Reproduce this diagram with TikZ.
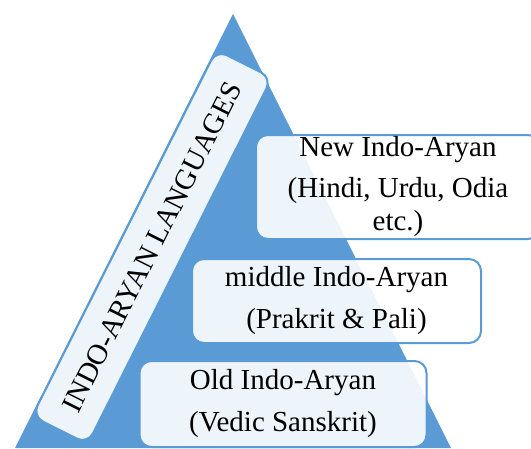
\documentclass[tikz,border=0pt]{standalone}
\usepackage{fontspec}
\setmainfont{Liberation Serif}
\definecolor{triblue}{HTML}{5B9BD5}
\begin{document}
\begin{tikzpicture}[x=1pt,y=-1pt,
  tbox/.style={draw=triblue, line width=2pt, fill=white, fill opacity=0.9, text opacity=1,
    rounded corners=12pt, align=center, inner sep=0pt, text=black,
    font=\fontsize{29}{33}\selectfont}]
\useasboundingbox (0,0) rectangle (531,448);
\clip (0,0) rectangle (531,448);
\coordinate (apex) at (233,14);
\coordinate (bl) at (15,448);
\coordinate (br) at (451,448);
\fill[triblue] (apex) -- (bl) -- (br) -- cycle;
\node[tbox, rotate=63.3, minimum width=410pt, minimum height=62pt] (lang) at (152,247) {INDO-ARYAN LANGUAGES};
\node[tbox, minimum width=284pt, minimum height=104pt] (new) at (398,187)
  {New Indo-Aryan\\[8pt](Hindi, Urdu, Odia\\etc.)};
\node[tbox, minimum width=289pt, minimum height=84pt] (mid) at (336.5,301)
  {middle Indo-Aryan\\[9pt](Prakrit \& Pali)};
\node[tbox, minimum width=287pt, minimum height=86pt] (old) at (283,404)
  {Old Indo-Aryan\\[9pt](Vedic Sanskrit)};
\end{tikzpicture}
\end{document}
